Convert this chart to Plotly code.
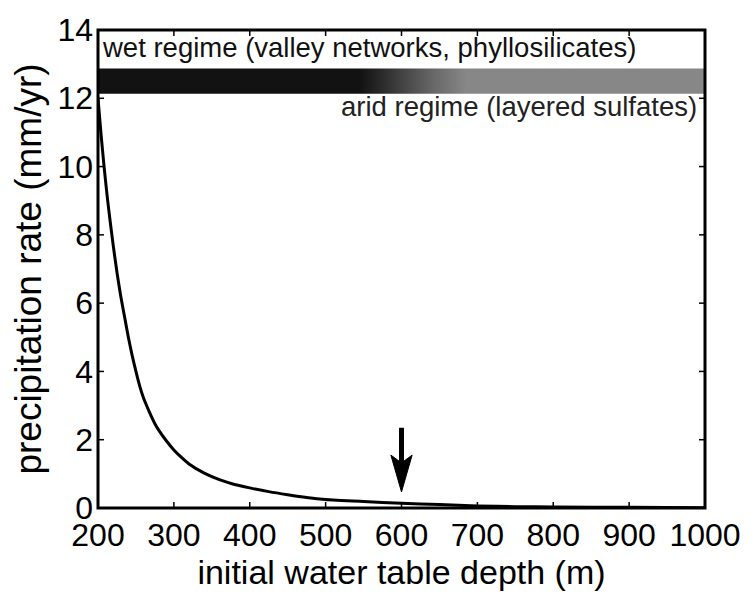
import plotly.graph_objects as go

# Precipitation rate needed vs. initial water table depth
depth_m = [200, 204, 208, 212, 216, 220, 225, 230, 235, 240, 245, 250, 255, 260,
           265, 270, 275, 280, 290, 300, 310, 320, 340, 360, 380, 400, 425, 450,
           475, 500, 550, 600, 650, 700, 750, 800, 900, 1000]
precip_mm_yr = [12.0, 10.95, 10.0, 9.15, 8.4, 7.7, 6.9, 6.2, 5.6, 5.0, 4.47, 4.0,
                3.57, 3.22, 2.95, 2.7, 2.47, 2.28, 1.97, 1.7, 1.48, 1.29, 1.02,
                0.83, 0.69, 0.59, 0.48, 0.39, 0.31, 0.25, 0.19, 0.14, 0.1, 0.06,
                0.04, 0.03, 0.02, 0.01]

x_ticks = [200, 300, 400, 500, 600, 700, 800, 900, 1000]
y_ticks = [0, 2, 4, 6, 8, 10, 12, 14]

# Regime band: grey level along depth (0 = black, 1 = white)
band_depth = [200, 545, 575, 603, 640, 685, 1000]
band_shade = [0.07, 0.07, 0.17, 0.27, 0.4, 0.53, 0.53]
band_y = [12.13, 12.87]

# Arrow marking the selected depth
arrow_x = 600
arrow_top = 2.35
arrow_tip = 0.47

FONT = "Liberation Sans, Arial, Helvetica, sans-serif"
TICK_LEN = 6

x_min, x_max = x_ticks[0], x_ticks[-1]
y_min, y_max = y_ticks[0], y_ticks[-1]


def grey(v):
    g = int(round(v * 255))
    return f"rgb({g},{g},{g})"


band_scale = [[(d - x_min) / (x_max - x_min), grey(s)]
              for d, s in zip(band_depth, band_shade)]

fig = go.Figure()

fig.add_trace(go.Scatter(
    x=[x_min, x_max, x_max, x_min, x_min],
    y=[band_y[0], band_y[0], band_y[1], band_y[1], band_y[0]],
    mode="lines", fill="toself", line=dict(width=0),
    fillgradient=dict(type="horizontal", colorscale=band_scale),
    hoverinfo="skip", showlegend=False,
))

fig.add_trace(go.Scatter(
    x=depth_m, y=precip_mm_yr, mode="lines",
    line=dict(color="black", width=3, shape="spline", smoothing=0.6),
    showlegend=False,
))

# arrow shaft and head
head_base = arrow_tip + 1.08
notch = arrow_tip + 0.85
half_w = 14
fig.add_shape(type="line", x0=arrow_x, x1=arrow_x, y0=arrow_top, y1=notch,
              line=dict(color="black", width=5))
fig.add_shape(type="path",
              path=(f"M {arrow_x - half_w},{head_base} L {arrow_x},{arrow_tip} "
                    f"L {arrow_x + half_w},{head_base} L {arrow_x},{notch} Z"),
              fillcolor="black", line=dict(color="black", width=1))

# box frame with inward ticks on all four sides
fig.add_shape(type="rect", xref="x domain", yref="y domain", x0=0, x1=1, y0=0, y1=1,
              line=dict(color="black", width=3), layer="above")
for t in x_ticks[1:-1]:
    for side, sign in ((0, 1), (1, -1)):
        fig.add_shape(type="line", xref="x", yref="y domain", x0=t, x1=t,
                      ysizemode="pixel", yanchor=side, y0=0, y1=sign * TICK_LEN,
                      line=dict(color="black", width=1.5), layer="above")
for t in y_ticks[1:-1]:
    for side, sign in ((0, 1), (1, -1)):
        fig.add_shape(type="line", yref="y", xref="x domain", y0=t, y1=t,
                      xsizemode="pixel", xanchor=side, x0=0, x1=sign * TICK_LEN,
                      line=dict(color="black", width=1.5), layer="above")

fig.add_annotation(x=x_min, y=13.5, xref="x", yref="y", xanchor="left", xshift=2,
                   text="wet regime (valley networks, phyllosilicates)",
                   showarrow=False, font=dict(family=FONT, size=27.5, color="#111"))
fig.add_annotation(x=x_max, y=11.75, xref="x", yref="y", xanchor="right", xshift=-6,
                   text="arid regime (layered sulfates)",
                   showarrow=False, font=dict(family=FONT, size=27.5, color="#222"))

axis_common = dict(
    showline=False, ticks="", showgrid=False, zeroline=False,
    tickfont=dict(family=FONT, size=32, color="black"),
)

fig.update_xaxes(range=[x_min, x_max], tickvals=x_ticks, ticklabelstandoff=5,
                 title=dict(text="initial water table depth (m)", standoff=4,
                            font=dict(family=FONT, size=34, color="black")),
                 **axis_common)
fig.update_yaxes(range=[y_min, y_max], tickvals=y_ticks, ticklabelstandoff=4,
                 title=dict(text="precipitation rate (mm/yr)", standoff=4,
                            font=dict(family=FONT, size=37, color="black")),
                 **axis_common)

fig.update_layout(
    width=753, height=599,
    margin=dict(l=98, r=41, t=24, b=91),
    paper_bgcolor="white", plot_bgcolor="white",
    showlegend=False,
)

fig.write_html("out.html")
